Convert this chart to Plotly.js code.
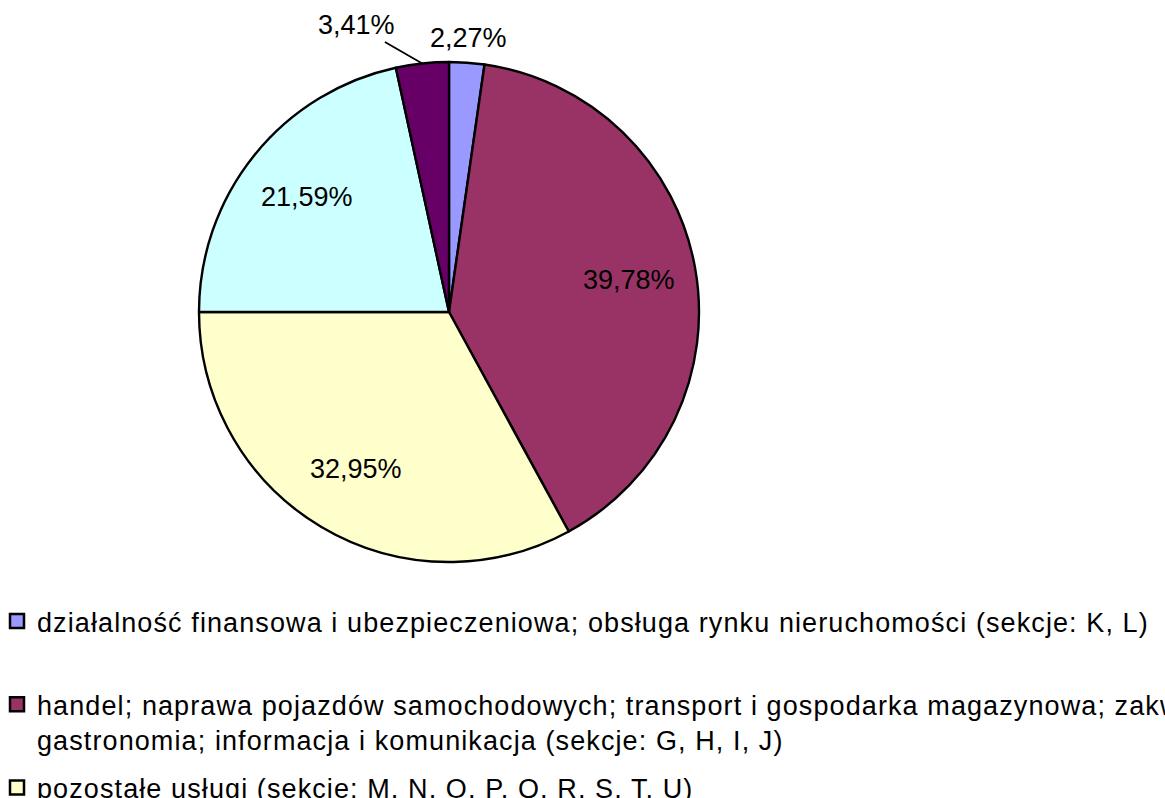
<!DOCTYPE html>
<html>
<head>
<meta charset="utf-8">
<script src="https://cdn.plot.ly/plotly-3.0.1.min.js"></script>
<style>
html,body{margin:0;padding:0;background:#fff;}
#chart{width:1165px;height:798px;}
#chart .legendtext{letter-spacing:1.1px;}
</style>
</head>
<body>
<div id="chart"></div>
<script>
const categories = [
  "działalność finansowa i ubezpieczeniowa; obsługa rynku nieruchomości (sekcje: K, L)",
  "handel; naprawa pojazdów samochodowych; transport i gospodarka magazynowa; zakwaterowanie i<br>gastronomia; informacja i komunikacja (sekcje: G, H, I, J)",
  "pozostałe usługi (sekcje: M, N, O, P, Q, R, S, T, U)",
  "przemysł i budownictwo (sekcje: B, C, D, E, F)",
  "rolnictwo, leśnictwo, łowiectwo i rybactwo (sekcja A)"
];
const values = [2.27, 39.78, 32.95, 21.59, 3.41];
const colors = ["#9999FF", "#993366", "#FFFFCC", "#CCFFFF", "#660066"];
const labelPlacement = ["outside", "inside", "inside", "inside", "leader"];

const FONT = "Liberation Sans, Arial, Helvetica, sans-serif";
const W = 1165, H = 798;
const CX = 449, CY = 312, R = 250;

const pie = {
  type: "pie",
  values: values,
  labels: categories,
  marker: { colors: colors, line: { color: "#000000", width: 2.4 } },
  sort: false,
  direction: "clockwise",
  rotation: 0,
  textinfo: "none",
  hoverinfo: "none",
  showlegend: false,
  domain: { x: [(CX - R) / W, (CX + R) / W], y: [(H - CY - R) / H, (H - CY + R) / H] }
};

const legendTraces = categories.map((name, i) => ({
  type: "scatter",
  mode: "markers",
  x: [null],
  y: [null],
  name: name.indexOf("<br>") < 0 ? name + "<br>&nbsp;" : name,
  legendgroup: "g" + i,
  marker: { symbol: "square", size: 14, color: colors[i], line: { color: "#000000", width: 2.5 } },
  hoverinfo: "none",
  showlegend: true
}));

// percentage labels placed from each slice's mid-angle
const total = values.reduce((a, b) => a + b, 0);
const annotations = [];
let cum = 0;
values.forEach((v, i) => {
  const mid = (cum + v / 2) / total;
  cum += v;
  const th = mid * 2 * Math.PI;
  const txt = v.toFixed(2).replace(".", ",") + "%";
  const font = { family: FONT, size: 27, color: "#000000" };
  const pt = (f) => ({ x: (CX + R * f * Math.sin(th)) / W, y: (H - CY + R * f * Math.cos(th)) / H });
  if (labelPlacement[i] === "inside") {
    const p = pt(0.73);
    annotations.push({ xref: "paper", yref: "paper", x: p.x, y: p.y, text: txt, showarrow: false, font: font, xanchor: "center", yanchor: "middle" });
  } else if (labelPlacement[i] === "outside") {
    const p = pt(1.10);
    annotations.push({ xref: "paper", yref: "paper", x: p.x, y: p.y, text: txt, showarrow: false, font: font, xanchor: "center", yanchor: "middle" });
  } else {
    const p = pt(1.0);
    annotations.push({ xref: "paper", yref: "paper", x: p.x, y: p.y, text: txt, showarrow: true, arrowhead: 0, arrowwidth: 1.8, arrowcolor: "#000000", ax: -66, ay: -38, standoff: 0, font: font });
  }
});

const layout = {
  width: W,
  height: H,
  margin: { l: 0, r: 0, t: 0, b: 0, autoexpand: false },
  paper_bgcolor: "#ffffff",
  plot_bgcolor: "#ffffff",
  font: { family: FONT, color: "#000000" },
  xaxis: { visible: false },
  yaxis: { visible: false },
  showlegend: true,
  annotations: annotations,
  legend: {
    x: -3 / W,
    xanchor: "left",
    y: (H - 597) / H,
    yanchor: "top",
    traceorder: "grouped",
    tracegroupgap: 10,
    valign: "top",
    bgcolor: "rgba(0,0,0,0)",
    borderwidth: 0,
    font: { family: FONT, size: 27, color: "#000000" },
    itemclick: false,
    itemdoubleclick: false
  }
};

Plotly.newPlot("chart", [pie].concat(legendTraces), layout, { displayModeBar: false, staticPlot: true });
</script>
</body>
</html>
